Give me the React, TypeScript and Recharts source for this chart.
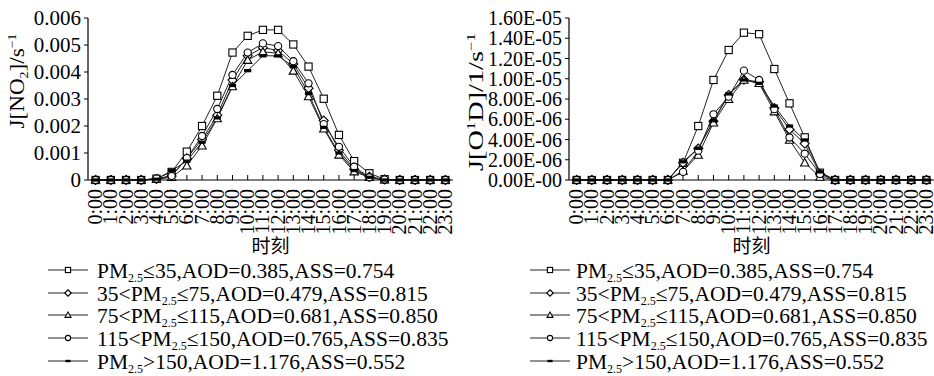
import React from 'react';
import { LineChart, Line, XAxis, YAxis } from 'recharts';

const hours = ['0:00','1:00','2:00','3:00','4:00','5:00','6:00','7:00','8:00','9:00','10:00','11:00','12:00','13:00','14:00','15:00','16:00','17:00','18:00','19:00','20:00','21:00','22:00','23:00'];

// J[NO2] (s^-1)
const no2S1 = [0,0,0,0,0.00005,0.0003,0.00105,0.002,0.00312,0.00472,0.00534,0.00556,0.00556,0.00502,0.0042,0.00301,0.00167,0.0007,0.00025,0.00003,0,0,0,0];
const no2S2 = [0,0,0,0,0.00004,0.00015,0.0008,0.0015,0.0024,0.0037,0.0046,0.0049,0.0048,0.0043,0.0034,0.0022,0.0011,0.0004,0.00012,0.00002,0,0,0,0];
const no2S3 = [0,0,0,0,0.00003,0.0001,0.00053,0.00127,0.00228,0.00346,0.00444,0.00475,0.00469,0.00404,0.00309,0.0019,0.00093,0.00031,0.0001,0.00001,0,0,0,0];
const no2S4 = [0,0,0,0,0.00005,0.00015,0.00081,0.00163,0.00263,0.00389,0.00472,0.00506,0.00496,0.0044,0.00358,0.00207,0.00123,0.00049,0.0001,0.00002,0,0,0,0];
const no2S5 = [0,0,0,0,0.00003,0.00035,0.0007,0.0014,0.0023,0.0035,0.00405,0.0046,0.0046,0.0042,0.0032,0.00195,0.001,0.00035,0.0001,0,0,0,0,0];

// J[O1D] (1/s^-1)
const o1dS1 = [0,0,0,0,0,0,0,1.7e-6,5.33e-6,9.88e-6,12.84e-6,14.55e-6,14.4e-6,10.96e-6,7.57e-6,4.21e-6,0.72e-6,0,0,0,0,0,0,0];
const o1dS2 = [0,0,0,0,0,0,0,1.7e-6,3.1e-6,5.8e-6,8.4e-6,9.9e-6,9.7e-6,7.1e-6,5.0e-6,3.6e-6,0.6e-6,0,0,0,0,0,0,0];
const o1dS3 = [0,0,0,0,0,0,0,0.9e-6,2.47e-6,5.66e-6,7.97e-6,9.88e-6,9.55e-6,6.75e-6,3.95e-6,1.71e-6,0.3e-6,0,0,0,0,0,0,0];
const o1dS4 = [0,0,0,0,0,0,0,0.8e-6,2.9e-6,6.49e-6,8.23e-6,10.8e-6,9.88e-6,7.0e-6,4.2e-6,2.6e-6,0.6e-6,0,0,0,0,0,0,0];
const o1dS5 = [0,0,0,0,0,0,0,1.8e-6,3.13e-6,5.86e-6,8.5e-6,9.88e-6,9.55e-6,7.3e-6,5.33e-6,3.95e-6,0.8e-6,0,0,0,0,0,0,0];

const no2Ticks = [0, 0.001, 0.002, 0.003, 0.004, 0.005, 0.006];
const no2TickLabels = ['0', '0.001', '0.002', '0.003', '0.004', '0.005', '0.006'];
const o1dTicks = [0, 2e-6, 4e-6, 6e-6, 8e-6, 1e-5, 1.2e-5, 1.4e-5, 1.6e-5];
const o1dTickLabels = ['0.00E-00', '2.00E-06', '4.00E-06', '6.00E-06', '8.00E-06', '1.00E-05', '1.20E-05', '1.40E-05', '1.60E-05'];

// legend parts: [before subscript, after subscript]
const legendPre = ['PM', '35<PM', '75<PM', '115<PM', 'PM'];
const legendPost = ['≤35,AOD=0.385,ASS=0.754', '≤75,AOD=0.479,ASS=0.815', '≤115,AOD=0.681,ASS=0.850', '≤150,AOD=0.765,ASS=0.835', '>150,AOD=1.176,ASS=0.552'];
const seriesKeys = ['s1', 's2', 's3', 's4', 's5'];
const markerTypes = ['square', 'diamond', 'triangle', 'circle', 'dash'];

const FONT = "'Liberation Serif', 'Times New Roman', serif";
const CJK = "'Noto Sans CJK SC', 'Liberation Serif', serif";
const LINE = '#222';

const buildRows = (arrs: number[][]) =>
  hours.map((h, i) => {
    const r: any = { hour: h };
    arrs.forEach((a, k) => { r[seriesKeys[k]] = a[i]; });
    return r;
  });

const no2Data = buildRows([no2S1, no2S2, no2S3, no2S4, no2S5]);
const o1dData = buildRows([o1dS1, o1dS2, o1dS3, o1dS4, o1dS5]);

function Marker({ type, cx, cy, s }: { type: string; cx: number; cy: number; s: number }) {
  const sw = 1.1;
  if (type === 'square') return <rect x={cx - s} y={cy - s} width={2 * s} height={2 * s} fill="#fff" stroke="#000" strokeWidth={sw} />;
  if (type === 'diamond') return <polygon points={`${cx},${cy - s * 1.25} ${cx + s * 1.25},${cy} ${cx},${cy + s * 1.25} ${cx - s * 1.25},${cy}`} fill="#fff" stroke="#000" strokeWidth={sw} />;
  if (type === 'triangle') return <polygon points={`${cx},${cy - s * 1.15} ${cx + s * 1.15},${cy + s * 0.9} ${cx - s * 1.15},${cy + s * 0.9}`} fill="#fff" stroke="#000" strokeWidth={sw} />;
  if (type === 'circle') return <circle cx={cx} cy={cy} r={s} fill="#fff" stroke="#000" strokeWidth={sw} />;
  return <rect x={cx - s} y={cy - s * 0.45} width={2 * s} height={s * 0.9} fill="#000" />;
}

const makeDot = (type: string) => (props: any) => {
  const { cx, cy, index } = props;
  if (cx == null || cy == null) return <g key={index} />;
  return <g key={`${type}-${index}`}><Marker type={type} cx={cx} cy={cy} s={3.6} /></g>;
};

const XTick = (props: any) => {
  const { x, y, payload } = props;
  return (
    <text x={x} y={y} transform={`rotate(-90 ${x} ${y})`} textAnchor="end" dy="0.33em" fontSize={20} fontFamily={FONT} fill="#000">
      {payload.value}
    </text>
  );
};

const makeYTick = (ticks: number[], labels: string[], fs: number) => (props: any) => {
  const { x, y, payload } = props;
  const idx = ticks.findIndex((t) => Math.abs(t - payload.value) < 1e-12);
  return (
    <text x={x} y={y} textAnchor="end" dy="0.35em" fontSize={fs} fontFamily={FONT} fill="#000">
      {idx >= 0 ? labels[idx] : String(payload.value)}
    </text>
  );
};

function Panel({ data, ticks, labels, yMax, yWidth, marginLeft, marginRight, width, yLabel, yFs }: any) {
  return (
    <LineChart width={width} height={262} data={data} margin={{ top: 18, right: marginRight, bottom: 22, left: marginLeft }}>
      <XAxis
        dataKey="hour"
        type="category"
        interval={0}
        padding={{ left: 7.6, right: 7.6 }}
        tickSize={-5}
        tickMargin={14}
        height={60}
        axisLine={{ stroke: '#000', strokeWidth: 1.2 }}
        tickLine={{ stroke: '#000' }}
        tick={<XTick />}
        label={{ value: '时刻', position: 'bottom', offset: 0, style: { fontSize: 19, fontFamily: CJK, fill: '#000' } }}
      />
      <YAxis
        type="number"
        domain={[0, yMax]}
        ticks={ticks}
        interval={0}
        width={yWidth}
        tickSize={4}
        tickMargin={3}
        axisLine={{ stroke: '#000', strokeWidth: 1.2 }}
        tickLine={{ stroke: '#000' }}
        tick={makeYTick(ticks, labels, yFs)}
        label={{ content: yLabel }}
      />
      {seriesKeys.map((k, i) => (
        <Line
          key={k}
          dataKey={k}
          type="linear"
          stroke={LINE}
          strokeWidth={1}
          dot={makeDot(markerTypes[i])}
          activeDot={false}
          isAnimationActive={false}
        />
      ))}
    </LineChart>
  );
}

const no2Label = () => (
  <text x={17} y={81} transform="rotate(-90 17 81)" textAnchor="middle" dy="0.34em" fontSize={20} fontFamily={FONT} fill="#000" textLength={95} lengthAdjust="spacingAndGlyphs">
    J[NO<tspan dy={4} fontSize={12}>2</tspan><tspan dy={-4}>]/s</tspan><tspan dy={-8} fontSize={12}>−1</tspan>
  </text>
);

const o1dLabel = () => (
  <text x={21} y={102} transform="rotate(-90 21 102)" textAnchor="middle" dy="0.34em" fontSize={20} fontFamily={FONT} fill="#000" textLength={138} lengthAdjust="spacingAndGlyphs">
    J[O<tspan dy={-8} fontSize={12}>1</tspan><tspan dy={8}>D]/1/s</tspan><tspan dy={-8} fontSize={12}>−1</tspan>
  </text>
);

function LegendBlock({ left, lineX0, lineX1, textX }: any) {
  const rowsY = [270, 293, 315, 338, 361];
  return (
    <svg style={{ position: 'absolute', left, top: 0 }} width={470} height={376}>
      {seriesKeys.map((k, i) => (
        <g key={k}>
          <line x1={lineX0} x2={lineX1} y1={rowsY[i]} y2={rowsY[i]} stroke={LINE} strokeWidth={1} />
          <Marker type={markerTypes[i]} cx={(lineX0 + lineX1) / 2} cy={rowsY[i]} s={2.6} />
          <text x={textX} y={rowsY[i]} dy="0.35em" fontSize={21.5} fontFamily={FONT} fill="#000">
            {legendPre[i]}
            <tspan dy={4} fontSize={12}>2.5</tspan>
            <tspan dy={-4}>{legendPost[i]}</tspan>
          </text>
        </g>
      ))}
    </svg>
  );
}

export default function App() {
  return (
    <div style={{ position: 'absolute', left: 0, top: 0, width: 934, height: 376, background: '#fff', overflow: 'hidden' }}>
      <div style={{ position: 'absolute', left: 0, top: 0 }}>
        <Panel data={no2Data} ticks={no2Ticks} labels={no2TickLabels} yMax={0.006} yWidth={70} marginLeft={18} marginRight={9} width={462} yLabel={no2Label} yFs={21} />
      </div>
      <div style={{ position: 'absolute', left: 455, top: 0 }}>
        <Panel data={o1dData} ticks={o1dTicks} labels={o1dTickLabels} yMax={1.6e-5} yWidth={90} marginLeft={24} marginRight={0} width={479} yLabel={o1dLabel} yFs={20} />
      </div>
      <LegendBlock left={0} lineX0={48} lineX1={88} textX={97} />
      <LegendBlock left={464} lineX0={66} lineX1={106} textX={112} />
    </div>
  );
}
